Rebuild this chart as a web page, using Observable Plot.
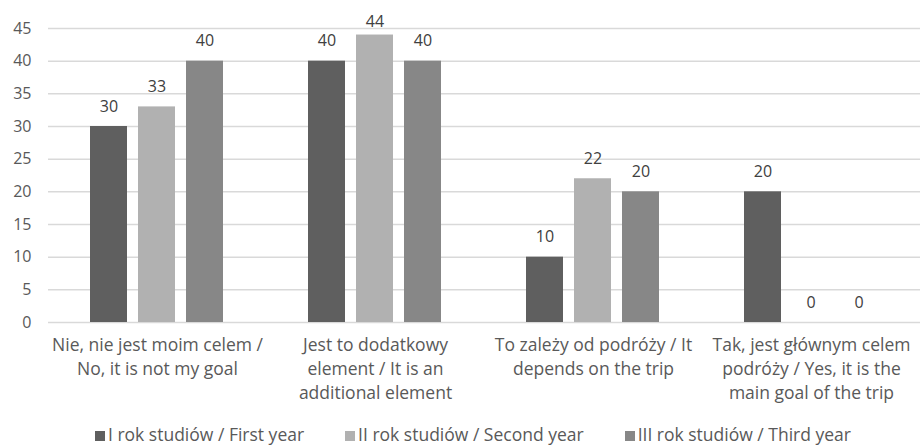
<!DOCTYPE html>
<html>
<head>
<meta charset="utf-8">
<script src="https://cdn.jsdelivr.net/npm/d3@7"></script>
<script src="https://cdn.jsdelivr.net/npm/@observablehq/plot@0.6"></script>
<style>
  html, body { margin: 0; padding: 0; background: #fff; }
  body { width: 920px; height: 445px; overflow: hidden; font-family: "Open Sans", sans-serif; }
  #legend { display: flex; justify-content: center; gap: 41px; font-size: 17.5px; color: #595959; margin-top: 17px; margin-left: 26px; line-height: 19px; }
  #legend span.sw { display: inline-block; width: 10px; height: 10px; margin-right: 3px; vertical-align: 0px; }
</style>
</head>
<body>
<div id="chart"></div>
<div id="legend"></div>
<script>
const categories = [
  "Nie, nie jest moim celem /\nNo, it is not my goal",
  "Jest to dodatkowy\nelement / It is an\nadditional element",
  "To zależy od podróży / It\ndepends on the trip",
  "Tak, jest głównym celem\npodróży / Yes, it is the\nmain goal of the trip"
];
const series = ["I rok studiów / First year", "II rok studiów / Second year", "III rok studiów / Third year"];
const firstYear = [30, 40, 10, 20];
const secondYear = [33, 44, 22, 0];
const thirdYear = [40, 40, 20, 0];
const colors = ["#5f5f5f", "#b1b1b1", "#878787"];
const yTicks = [0, 5, 10, 15, 20, 25, 30, 35, 40, 45];

const values = [firstYear, secondYear, thirdYear];
const data = [];
categories.forEach((c, i) => series.forEach((s, j) => data.push({category: c, series: s, value: values[j][i]})));

const yMax = 45;
const chart = Plot.plot({
  width: 920,
  height: 408,
  marginLeft: 47,
  marginRight: 0,
  marginTop: 28,
  marginBottom: 86,
  style: {fontFamily: "'Open Sans', sans-serif", fontSize: "16px", color: "#595959", background: "#fff"},
  fx: {domain: categories, padding: 0, label: null, axis: null},
  x: {domain: series, paddingInner: 0.22, paddingOuter: 0.86, axis: null},
  y: {domain: [0, yMax], label: null},
  color: {domain: series, range: colors},
  marks: [
    Plot.gridY(yTicks, {stroke: "#d9d9d9", strokeOpacity: 1, strokeWidth: 1.5}),
    Plot.axisY(yTicks, {tickSize: 0, tickPadding: 17, label: null, fontSize: 16, fill: "#595959"}),
    Plot.axisFx({anchor: "bottom", tickSize: 0, tickPadding: 12, label: null, fontSize: 17.5, lineHeight: 1.35, fill: "#595959", lineAnchor: "top"}),
    Plot.barY(data, {fx: "category", x: "series", y: "value", fill: "series"}),
    // labels sit above the bars, kept inside the chart area near the top
    Plot.text(data, {fx: "category", x: "series", y: d => Math.min(d.value, yMax - 2), text: d => String(d.value), dy: -20, fontSize: 16, fill: "#404040"})
  ]
});
document.getElementById("chart").appendChild(chart);

const legend = document.getElementById("legend");
series.forEach((s, i) => {
  const item = document.createElement("div");
  const sw = document.createElement("span");
  sw.className = "sw";
  sw.style.background = colors[i];
  item.appendChild(sw);
  item.appendChild(document.createTextNode(s));
  legend.appendChild(item);
});
</script>
</body>
</html>
